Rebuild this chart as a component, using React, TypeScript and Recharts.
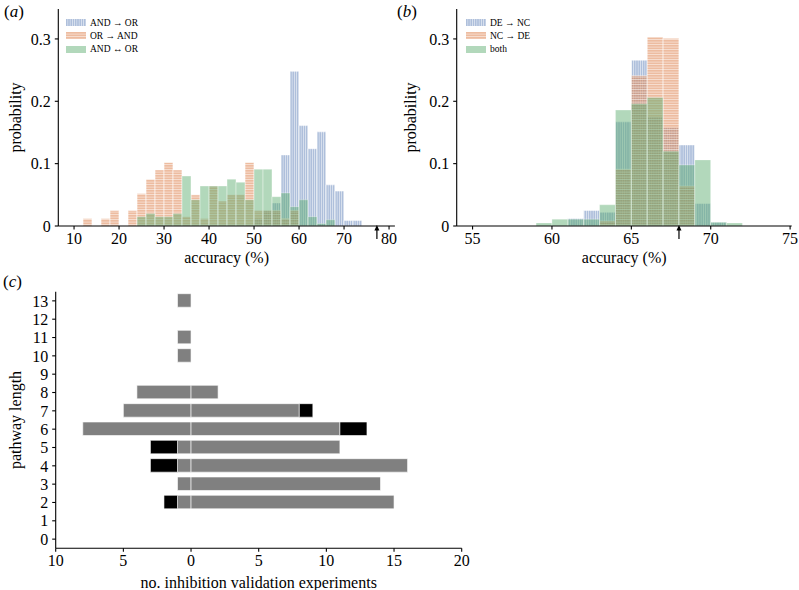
import React from 'react';
import { BarChart, Bar, XAxis, YAxis, ReferenceDot, Legend, Label } from 'recharts';

const FONT = "'Liberation Serif', 'DejaVu Serif', 'Times New Roman', serif";

// (a) 2 %-wide bins, centres from 11 to 75
const binsA = [11, 13, 15, 17, 19, 21, 23, 25, 27, 29, 31, 33, 35, 37, 39, 41, 43, 45, 47, 49, 51, 53, 55, 57, 59, 61, 63, 65, 67, 69, 71, 73, 75];
const andToOr = [0, 0, 0, 0, 0, 0, 0, 0, 0, 0, 0, 0, 0, 0, 0, 0, 0, 0, 0, 0, 0.012, 0.025, 0.037, 0.114, 0.248, 0.161, 0.124, 0.151, 0.066, 0.056, 0.009, 0.009, 0];
const orToAnd = [0, 0.012, 0, 0.012, 0.025, 0, 0.025, 0.052, 0.075, 0.09, 0.102, 0.09, 0.015, 0.05, 0.012, 0.064, 0.04, 0.05, 0.05, 0.102, 0.025, 0.025, 0.025, 0.012, 0.025, 0, 0, 0, 0, 0, 0, 0, 0];
const andOrBoth = [0, 0, 0, 0, 0, 0, 0, 0.015, 0.02, 0.015, 0.015, 0.02, 0.08, 0.042, 0.064, 0.064, 0.064, 0.075, 0.07, 0.042, 0.091, 0.091, 0.047, 0.053, 0.031, 0.042, 0.015, 0.004, 0.01, 0, 0, 0, 0];
const ticksA = [10, 20, 30, 40, 50, 60, 70, 80];

// (b) 1 %-wide bins, centres from 59.5 to 71.5
const binsB = [59.5, 60.5, 61.5, 62.5, 63.5, 64.5, 65.5, 66.5, 67.5, 68.5, 69.5, 70.5, 71.5];
const deToNc = [0, 0, 0.012, 0.025, 0.022, 0.167, 0.266, 0.175, 0.158, 0.13, 0.036, 0.006, 0];
const ncToDe = [0, 0, 0, 0, 0.008, 0.091, 0.241, 0.303, 0.301, 0.064, 0, 0, 0];
const deNcBoth = [0.005, 0.011, 0.011, 0.011, 0.034, 0.186, 0.196, 0.206, 0.12, 0.098, 0.106, 0.006, 0.005];
const ticksB = [55, 60, 65, 70, 75];

const probTicks = [0, 0.1, 0.2, 0.3];

// (c) pathway lengths, left side negative
const lengths = [0, 1, 2, 3, 4, 5, 6, 7, 8, 9, 10, 11, 12, 13];
const leftGrey = [0, 0, -1, -1, -1, -1, -8, -5, -4, 0, -1, -1, 0, -1];
const leftBlack = [0, 0, -1, 0, -2, -2, 0, 0, 0, 0, 0, 0, 0, 0];
const rightGrey = [0, 0, 15, 14, 16, 11, 11, 8, 2, 0, 0, 0, 0, 0];
const rightBlack = [0, 0, 0, 0, 0, 0, 2, 1, 0, 0, 0, 0, 0, 0];
const ticksC = [-10, -5, 0, 5, 10, 15, 20];

const nz = (v: number) => (v === 0 ? null : v);

const dataA = binsA.map((x, i) => ({ x, blue: nz(andToOr[i]), orange: nz(orToAnd[i]), green: nz(andOrBoth[i]) }));
const dataB = binsB.map((x, i) => ({ x, blue: nz(deToNc[i]), orange: nz(ncToDe[i]), green: nz(deNcBoth[i]) }));
const dataC = lengths.map((y, i) => ({
  y,
  lg: nz(leftGrey[i]),
  lb: nz(leftBlack[i]),
  rg: nz(rightGrey[i]),
  rb: nz(rightBlack[i]),
}));

const tickStyle = { fill: '#000', fontSize: 16, fontFamily: FONT, style: { fontFamily: FONT } };
const labelStyle = { fill: '#000', fontSize: 16, fontFamily: FONT };
const probFmt = (v: number) => (v === 0 ? '0' : v.toFixed(1));

const Arrow = (p: any) => (
  <g>
    <line x1={p.cx} y1={p.cy + 13} x2={p.cx} y2={p.cy + 3} stroke="#000" strokeWidth={1.2} />
    <polygon points={`${p.cx - 2.5},${p.cy + 4.5} ${p.cx + 2.5},${p.cy + 4.5} ${p.cx},${p.cy - 1}`} fill="#000" />
  </g>
);

const Patterns = ({ id }: { id: string }) => (
  <defs>
    <pattern id={`v-${id}`} patternUnits="userSpaceOnUse" width={2.25} height={4}>
      <rect width={2.25} height={4} fill="#4c72b0" fillOpacity={0.45} />
      <rect x={1.6} width={0.65} height={4} fill="#fff" fillOpacity={0.7} />
    </pattern>
    <pattern id={`h-${id}`} patternUnits="userSpaceOnUse" width={4} height={2.5}>
      <rect width={4} height={2.5} fill="#dd8452" fillOpacity={0.55} />
      <rect y={1.85} width={4} height={0.65} fill="#fff" fillOpacity={0.7} />
    </pattern>
  </defs>
);

const LegendBox = ({ id, names }: { id: string; names: string[] }) => {
  const fills = [`url(#v-${id})`, `url(#h-${id})`, '#55a868'];
  return (
    <div style={{ fontFamily: FONT, fontSize: 9.5, color: '#000' }}>
      {names.map((n, i) => (
        <div key={n} style={{ display: 'flex', alignItems: 'center', height: 13.3 }}>
          <svg width={20} height={7}>
            <rect width={20} height={7} fill={fills[i]} fillOpacity={i === 2 ? 0.45 : 1} />
          </svg>
          <span style={{ marginLeft: 4, whiteSpace: 'nowrap' }}>{n}</span>
        </div>
      ))}
    </div>
  );
};

const Hist = ({ id, data, domain, ticks, barSize, arrowX, names, left }: any) => (
  <div style={{ position: 'absolute', left, top: 0 }}>
    <BarChart width={left === 0 ? 400 : 399} height={270} data={data} barGap={0} barCategoryGap={0}
      margin={{ top: 9, right: left === 0 ? 5.1 : 7.3, left: 0, bottom: 0 }}>
      <Patterns id={id} />
      <XAxis xAxisId="x1" type="number" dataKey="x" domain={domain} ticks={ticks} allowDataOverflow height={44}
        tick={tickStyle} tickSize={3.5} tickMargin={3} interval={0} stroke="#000" strokeWidth={1.1}>
        <Label value="accuracy (%)" position="center" dy={9} style={labelStyle} />
      </XAxis>
      <XAxis xAxisId="x2" hide type="number" dataKey="x" domain={domain} allowDataOverflow />
      <XAxis xAxisId="x3" hide type="number" dataKey="x" domain={domain} allowDataOverflow />
      <YAxis type="number" domain={[0, 0.348]} ticks={probTicks} allowDataOverflow width={left === 0 ? 58.3 : 56.7}
        tick={tickStyle} tickSize={3.5} tickMargin={4} tickFormatter={probFmt} interval={0} stroke="#000" strokeWidth={1.1}>
        <Label value="probability" angle={-90} position="center" dx={left === 0 ? -14 : -18} style={labelStyle} />
      </YAxis>
      <Bar xAxisId="x1" dataKey="blue" fill={`url(#v-${id})`} stroke="#fff" strokeWidth={0.5} barSize={barSize} isAnimationActive={false} />
      <Bar xAxisId="x2" dataKey="orange" fill={`url(#h-${id})`} stroke="#fff" strokeWidth={0.5} barSize={barSize} isAnimationActive={false} />
      <Bar xAxisId="x3" dataKey="green" fill="#55a868" fillOpacity={0.45} stroke="#fff" strokeWidth={0.5} strokeOpacity={0.6} barSize={barSize} isAnimationActive={false} />
      <ReferenceDot xAxisId="x1" x={arrowX} y={0} ifOverflow="visible" shape={Arrow} />
      <Legend layout="vertical" align="center" verticalAlign="middle"
        wrapperStyle={{ left: 66, top: 16, width: 'auto' }}
        content={() => <LegendBox id={id} names={names} />} />
    </BarChart>
  </div>
);

const letter = (l: string, left: number, top: number) => (
  <div style={{ position: 'absolute', left, top, fontFamily: FONT, fontSize: 17, color: '#000' }}>
    (<i>{l}</i>)
  </div>
);

export default function App() {
  return (
    <div style={{ position: 'absolute', left: 0, top: 0, width: 799, height: 590, background: '#fff', overflow: 'hidden', fontFamily: FONT }}>
      <Hist id="a" left={0} data={dataA} domain={[6.5, 81.3]} ticks={ticksA} barSize={8.9} arrowX={77.3}
        names={['AND \u2192 OR', 'OR \u2192 AND', 'AND \u2194 OR']} />
      <Hist id="b" left={400} data={dataB} domain={[54, 75.1]} ticks={ticksB} barSize={15.8} arrowX={68}
        names={['DE \u2192 NC', 'NC \u2192 DE', 'both']} />

      <div style={{ position: 'absolute', left: 0, top: 270 }}>
        <BarChart layout="vertical" width={480} height={320} data={dataC} stackOffset="sign" barCategoryGap={0}
          margin={{ top: 21.7, right: 18.3, left: 0, bottom: 0 }}>
          <XAxis type="number" domain={[-10, 20]} ticks={ticksC} allowDataOverflow height={41.7}
            tick={tickStyle} tickSize={3.5} tickMargin={3} interval={0} stroke="#000" strokeWidth={1.1}
            tickFormatter={(v: number) => String(Math.abs(v))}>
            <Label value="no. inhibition validation experiments" position="center" dy={12.7} style={labelStyle} />
          </XAxis>
          <YAxis type="number" dataKey="y" domain={[-0.5, 13.5]} ticks={lengths} allowDataOverflow width={55.7} reversed
            tick={tickStyle} tickSize={3.5} tickMargin={4} interval={0} stroke="#000" strokeWidth={1.1}>
            <Label value="pathway length" angle={-90} position="center" dx={-13} style={labelStyle} />
          </YAxis>
          <Bar dataKey="lg" stackId="s" fill="#808080" stroke="#fff" strokeWidth={0.6} barSize={13.5} isAnimationActive={false} />
          <Bar dataKey="lb" stackId="s" fill="#000" stroke="#fff" strokeWidth={0.6} barSize={13.5} isAnimationActive={false} />
          <Bar dataKey="rg" stackId="s" fill="#808080" stroke="#fff" strokeWidth={0.6} barSize={13.5} isAnimationActive={false} />
          <Bar dataKey="rb" stackId="s" fill="#000" stroke="#fff" strokeWidth={0.6} barSize={13.5} isAnimationActive={false} />
        </BarChart>
      </div>

      {letter('a', 4, 2)}
      {letter('b', 397, 2)}
      {letter('c', 3, 272)}
    </div>
  );
}
